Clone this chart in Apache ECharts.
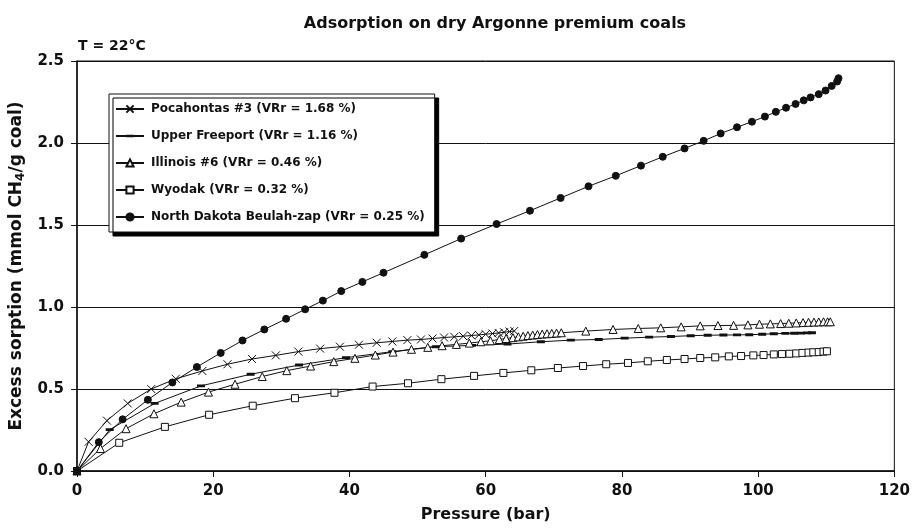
<!DOCTYPE html>
<html>
<head>
<meta charset="utf-8">
<script src="https://cdn.jsdelivr.net/npm/echarts@6/dist/echarts.min.js"></script>
<style>
  html, body { margin: 0; padding: 0; background: #fff; }
  #chart { width: 913px; height: 528px; }
</style>
</head>
<body>
<div id="chart"></div>
<script>
// Excess methane sorption isotherms, T = 22 °C
const seriesNames = [
  'Pocahontas #3 (VRr = 1.68 %)',
  'Upper Freeport (VRr = 1.16 %)',
  'Illinois #6 (VRr = 0.46 %)',
  'Wyodak (VRr = 0.32 %)',
  'North Dakota Beulah-zap (VRr = 0.25 %)'
];

const pocahontasP = [0, 1.7, 4.4, 7.45, 10.9, 14.5, 18.4, 22.1, 25.7, 29.2, 32.5, 35.7, 38.6, 41.4, 44.0, 46.3, 48.5, 50.5, 52.2, 53.9, 55.4, 56.7, 57.9, 59.0, 60.0, 61.0, 61.9, 62.7, 63.5, 64.2];
const pocahontasN = [0, 0.178, 0.307, 0.412, 0.50, 0.562, 0.61, 0.651, 0.683, 0.705, 0.728, 0.746, 0.758, 0.77, 0.782, 0.79, 0.798, 0.802, 0.808, 0.814, 0.818, 0.822, 0.826, 0.83, 0.834, 0.838, 0.842, 0.846, 0.85, 0.854];

const freeportP = [0, 4.8, 11.4, 18.2, 25.5, 32.6, 39.5, 46.3, 52.7, 58.0, 63.2, 68.1, 72.5, 76.6, 80.4, 84.0, 87.2, 90.1, 92.6, 94.9, 96.9, 98.7, 100.6, 102.3, 104.0, 105.3, 106.3, 107.2, 107.9];
const freeportN = [0, 0.252, 0.412, 0.519, 0.59, 0.646, 0.691, 0.728, 0.758, 0.766, 0.774, 0.788, 0.798, 0.802, 0.81, 0.816, 0.82, 0.825, 0.828, 0.829, 0.83, 0.831, 0.834, 0.837, 0.839, 0.84, 0.841, 0.842, 0.843];

const illinoisP = [0, 3.45, 7.2, 11.3, 15.3, 19.3, 23.2, 27.2, 30.8, 34.3, 37.7, 40.8, 43.8, 46.4, 49.1, 51.5, 53.6, 55.7, 57.6, 59.3, 60.7, 62.0, 63.0, 64.0, 64.8, 65.5, 66.2, 66.9, 67.6, 68.3, 69.0, 69.7, 70.4, 71.1, 74.7, 78.7, 82.4, 85.7, 88.7, 91.5, 94.1, 96.4, 98.5, 100.2, 101.8, 103.3, 104.5, 105.6, 106.6, 107.4, 108.2, 108.9, 109.6, 110.2, 110.6];
const illinoisN = [0, 0.137, 0.258, 0.349, 0.42, 0.481, 0.529, 0.576, 0.612, 0.64, 0.667, 0.687, 0.707, 0.725, 0.742, 0.754, 0.764, 0.772, 0.78, 0.788, 0.794, 0.802, 0.808, 0.813, 0.818, 0.822, 0.826, 0.829, 0.832, 0.835, 0.837, 0.839, 0.841, 0.843, 0.853, 0.863, 0.869, 0.873, 0.879, 0.885, 0.887, 0.888, 0.891, 0.895, 0.897, 0.899, 0.901, 0.903, 0.905, 0.907, 0.908, 0.909, 0.91, 0.91, 0.91];

const wyodakP = [0, 6.2, 12.9, 19.4, 25.8, 32.0, 37.8, 43.4, 48.6, 53.5, 58.3, 62.6, 66.7, 70.6, 74.3, 77.7, 80.9, 83.8, 86.6, 89.2, 91.5, 93.7, 95.7, 97.5, 99.3, 100.8, 102.3, 103.5, 104.6, 105.6, 106.5, 107.4, 108.1, 108.9, 109.6, 110.1];
const wyodakN = [0, 0.172, 0.269, 0.343, 0.398, 0.444, 0.477, 0.515, 0.535, 0.56, 0.58, 0.598, 0.614, 0.628, 0.64, 0.651, 0.659, 0.669, 0.677, 0.683, 0.689, 0.693, 0.699, 0.701, 0.705, 0.707, 0.711, 0.713, 0.715, 0.717, 0.72, 0.722, 0.724, 0.725, 0.728, 0.73];

const beulahP = [0, 3.2, 6.7, 10.4, 14.0, 17.6, 21.1, 24.3, 27.5, 30.7, 33.5, 36.1, 38.8, 41.9, 45.0, 51.0, 56.4, 61.6, 66.5, 71.0, 75.1, 79.1, 82.8, 86.0, 89.2, 92.0, 94.5, 96.9, 99.1, 101.0, 102.6, 104.1, 105.5, 106.7, 107.7, 108.9, 109.9, 110.8, 111.6, 111.8];
const beulahN = [0, 0.176, 0.315, 0.434, 0.54, 0.634, 0.72, 0.796, 0.863, 0.928, 0.986, 1.039, 1.097, 1.153, 1.209, 1.318, 1.417, 1.506, 1.587, 1.665, 1.736, 1.80, 1.862, 1.916, 1.967, 2.013, 2.058, 2.096, 2.13, 2.161, 2.19, 2.215, 2.238, 2.26, 2.278, 2.298, 2.32, 2.348, 2.375, 2.395];

const xTicks = [0, 20, 40, 60, 80, 100, 120];
const yTicks = [0.0, 0.5, 1.0, 1.5, 2.0, 2.5];

const FONT = '"DejaVu Sans", "Liberation Sans", Arial, sans-serif';
const INK = '#111';

// Marker shapes: a stroked cross and a short thick dash inside a square box
const CROSS = 'path://M0,0L10,10M10,0L0,10';
const DASH = 'path://M0,0L0.01,0M0,3.2L10,3.2L10,6.8L0,6.8ZM0,10L0.01,10';

function pairs(xs, ys) {
  return xs.map((x, i) => [x, ys[i]]);
}

function makeSeries(name, xs, ys, symbol, size, fill, border) {
  return {
    name: name,
    type: 'line',
    data: pairs(xs, ys),
    symbol: symbol,
    symbolSize: size,
    showAllSymbol: true,
    smooth: false,
    lineStyle: { color: INK, width: 1 },
    itemStyle: { color: fill, borderColor: INK, borderWidth: border },
    emphasis: { disabled: true },
    animation: false
  };
}

const chart = echarts.init(document.getElementById('chart'), null, { renderer: 'canvas' });

chart.setOption({
  backgroundColor: '#fff',
  animation: false,
  textStyle: { fontFamily: FONT },
  title: [
    {
      text: 'Adsorption on dry Argonne premium coals',
      left: 490, top: 11, textAlign: 'center',
      textStyle: { fontFamily: FONT, fontSize: 16, fontWeight: 'bold', color: INK }
    },
    {
      text: 'T = 22°C',
      left: 73, top: 34,
      textStyle: { fontFamily: FONT, fontSize: 14, fontWeight: 'bold', color: INK }
    }
  ],
  grid: {
    left: 77, right: 17, top: 61, bottom: 55,
    show: true, borderColor: INK, borderWidth: 1, backgroundColor: 'transparent'
  },
  legend: {
    orient: 'vertical',
    left: 109, top: 94,
    data: seriesNames,
    itemWidth: 28, itemHeight: 9, itemGap: 11,
    padding: [7, 10, 7, 6],
    backgroundColor: '#fff',
    borderColor: INK, borderWidth: 1,
    shadowColor: '#000', shadowBlur: 0, shadowOffsetX: 4, shadowOffsetY: 4,
    selectedMode: false,
    textStyle: { fontFamily: FONT, fontSize: 12, fontWeight: 'bold', color: INK, lineHeight: 16, padding: [0, 0, 0, 2] }
  },
  xAxis: {
    type: 'value', min: 0, max: 120, interval: 20,
    name: 'Pressure (bar)', nameLocation: 'middle', nameGap: 36,
    nameTextStyle: { fontFamily: FONT, fontSize: 16, fontWeight: 'bold', color: INK },
    axisLine: { show: true, lineStyle: { color: INK, width: 1.5 } },
    axisTick: { show: true, inside: false, length: 6, lineStyle: { color: INK } },
    axisLabel: {
      margin: 13, fontFamily: FONT, fontSize: 15, fontWeight: 'bold', color: INK,
      formatter: v => xTicks.includes(v) ? String(v) : ''
    },
    splitLine: { show: false }
  },
  yAxis: {
    type: 'value', min: 0, max: 2.5, interval: 0.5,
    name: 'Excess sorption (mmol CH{sub|4}/g coal)', nameLocation: 'middle', nameGap: 48, nameRotate: 90,
    nameTextStyle: {
      fontFamily: FONT, fontSize: 17, fontWeight: 'bold', color: INK,
      rich: { sub: { fontFamily: FONT, fontSize: 12, fontWeight: 'bold', color: INK, verticalAlign: 'bottom', padding: [7, 0, 0, 0] } }
    },
    axisLine: { show: true, lineStyle: { color: INK, width: 1.5 } },
    axisTick: { show: true, inside: false, length: 6, lineStyle: { color: INK } },
    axisLabel: {
      margin: 13, fontFamily: FONT, fontSize: 15, fontWeight: 'bold', color: INK,
      formatter: v => yTicks.some(t => Math.abs(t - v) < 1e-9) ? v.toFixed(1) : ''
    },
    splitLine: { show: true, lineStyle: { color: INK, width: 1 } }
  },
  series: [
    makeSeries(seriesNames[0], pocahontasP, pocahontasN, CROSS, 8, INK, 1),
    makeSeries(seriesNames[1], freeportP, freeportN, DASH, 8, INK, 0),
    makeSeries(seriesNames[2], illinoisP, illinoisN, 'triangle', 8, '#fff', 1),
    makeSeries(seriesNames[3], wyodakP, wyodakN, 'rect', 7, '#fff', 1),
    makeSeries(seriesNames[4], beulahP, beulahN, 'circle', 7, INK, 1)
  ]
});
</script>
</body>
</html>
